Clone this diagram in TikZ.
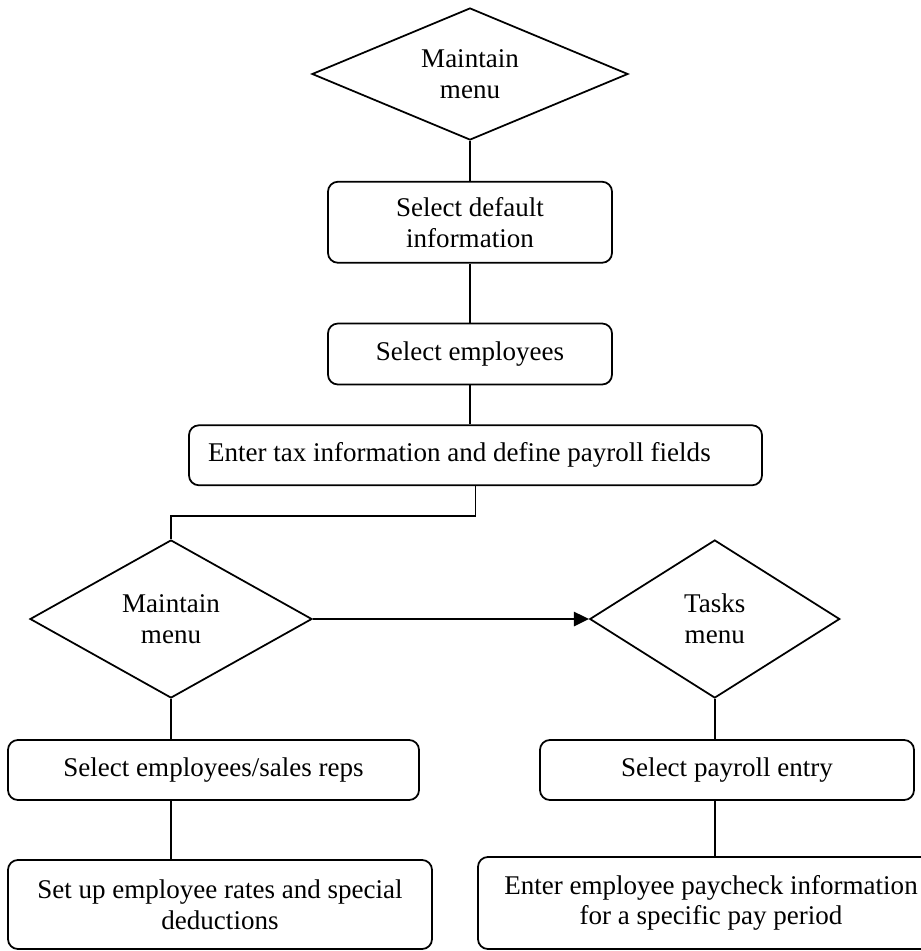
\documentclass[tikz,border=0pt]{standalone}
\usepackage{fontspec}
\setmainfont{Liberation Serif}
\usepackage{xcolor}
\usepackage{tikz}
\usetikzlibrary{arrows.meta,positioning,shapes.geometric}

\begin{document}
\begin{tikzpicture}[>={Triangle[length=0.24cm,width=0.23cm]}, line width=0.8pt,
    every node/.style={draw=black, align=center, inner sep=0pt, font=\fontsize{12.3}{14}\selectfont},
    menubox/.style={diamond, aspect=2},
    taskbox/.style={rectangle, rounded corners=4.5pt, minimum width=4.544cm}]
    \clip (0,0) rectangle (14.736,-15.216);
    \useasboundingbox (0,0) rectangle (14.736,-15.216);
    \node (maintop) [menubox, minimum width=5.056cm, minimum height=2.112cm] at (7.52,-1.184) {Maintain\\menu};
    \node (seldef) [taskbox, minimum height=1.296cm, below=0.64cm of maintop] {Select default\\information};
    \node (selemp) [taskbox, minimum height=0.976cm, below=0.944cm of seldef] {Select employees};
    \node (taxinfo) [taskbox, inner xsep=0.304cm, minimum height=0.96cm, below=0.624cm of selemp, xshift=0.088cm] {\makebox[8.56cm][l]{Enter tax information and define payroll fields}};
    \node (mainleft) [menubox, minimum width=4.512cm, minimum height=2.528cm] at (2.736,-9.904) {Maintain\\menu};
    \node (tasks) [menubox, minimum width=4.0cm, minimum height=2.528cm, right=4.416cm of mainleft] {Tasks\\menu};
    \node (selrep) [taskbox, minimum width=6.576cm, minimum height=0.96cm] at (3.416,-12.32) {Select employees/sales reps};
    \node (selpay) [taskbox, minimum width=5.984cm, minimum height=0.96cm] at (11.632,-12.32) {Select payroll entry};
    \node (setup) [taskbox, minimum width=6.784cm, minimum height=1.424cm] at (3.52,-14.472) {Set up employee rates and special\\deductions};
    \node (enterpay) [taskbox, minimum width=7.456cm, minimum height=1.472cm] at (11.376,-14.448) {Enter employee paycheck information\\for a specific pay period};
    \draw (maintop) -- (seldef);
    \draw (seldef) -- (selemp);
    \draw (selemp) -- (selemp |- taxinfo.north);
    \draw (taxinfo.south) -- ++(0,-0.48) -| (mainleft.north);
    \draw[->] (mainleft.east) -- (tasks.west);
    \draw (mainleft.south) -- (mainleft.south |- selrep.north);
    \draw (mainleft.south |- selrep.south) -- (mainleft.south |- setup.north);
    \draw (tasks.south) -- (tasks.south |- selpay.north);
    \draw (tasks.south |- selpay.south) -- (tasks.south |- enterpay.north);
  \end{tikzpicture}
\end{document}
